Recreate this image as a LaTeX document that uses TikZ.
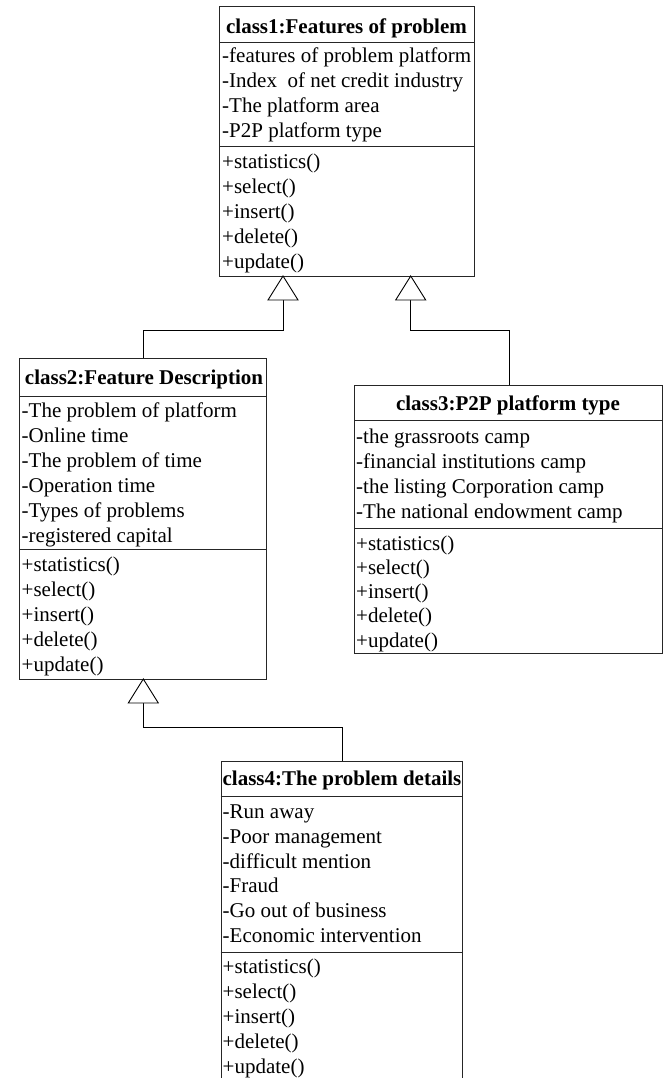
\documentclass[tikz,border=0pt]{standalone}
\usepackage{fontspec}
\setmainfont{Liberation Serif}
\begin{document}
\begin{tikzpicture}[x=1pt,y=-1pt,
  classbox/.style={draw=black!85, line width=1pt, inner sep=0pt, anchor=north west, fill=white},
  sepline/.style={draw=black!85, line width=1pt},
  ctext/.style={anchor=base west, inner sep=0pt, font=\fontsize{21}{25}\selectfont},
  ttext/.style={anchor=base, inner sep=0pt, font=\fontsize{21}{25}\selectfont\bfseries},
  gen/.style={draw=black, fill=white, line width=0.9pt},
  conn/.style={draw=black, line width=1pt}]
\useasboundingbox (0,0) rectangle (665,1078);

% ---------- class1 ----------
\node[classbox, minimum width=255pt, minimum height=270pt] (c1) at (219,6) {};
\draw[sepline] (219,42.7) -- (474,42.7);
\draw[sepline] (219,146.7) -- (474,146.7);
\node[ttext] (c1t) at (346.5,33.5) {class1:Features of problem};
\foreach \t [count=\i from 0] in {-features of problem platform,-Index\ \ of net credit industry,-The platform area,-P2P platform type}
  \node[ctext] (c1a\i) at (222,63+25*\i) {\t};
\foreach \t [count=\i from 0] in {+statistics(),+select(),+insert(),+delete(),+update()}
  \node[ctext] (c1m\i) at (222,168.5+25*\i) {\t};

% ---------- class2 ----------
\node[classbox, minimum width=246.4pt, minimum height=321.3pt] (c2) at (19.3,357.7) {};
\draw[sepline] (19.3,396) -- (265.7,396);
\draw[sepline] (19.3,549.3) -- (265.7,549.3);
\node[ttext] (c2t) at (144,384.5) {class2:Feature Description};
\foreach \t [count=\i from 0] in {-The problem of platform,-Online time,-The problem of time,-Operation time,-Types of problems,-registered capital}
  \node[ctext] (c2a\i) at (21.5,417+25*\i) {\t};
\foreach \t [count=\i from 0] in {+statistics(),+select(),+insert(),+delete(),+update()}
  \node[ctext] (c2m\i) at (21.5,571+25*\i) {\t};

% ---------- class3 ----------
\node[classbox, minimum width=308pt, minimum height=268pt] (c3) at (354,385) {};
\draw[sepline] (354,420) -- (662,420);
\draw[sepline] (354,528) -- (662,528);
\node[ttext] (c3t) at (508,410.5) {class3:P2P platform type};
\foreach \t [count=\i from 0] in {-the grassroots camp,-financial institutions camp,-the listing Corporation camp,-The national endowment camp}
  \node[ctext] (c3a\i) at (356,443+25*\i) {\t};
\foreach \t [count=\i from 0] in {+statistics(),+select(),+insert(),+delete(),+update()}
  \node[ctext] (c3m\i) at (356,550+24.3*\i) {\t};

% ---------- class4 ----------
\begin{scope}
\clip (0,0) rectangle (665,1078);
\node[classbox, minimum width=241.3pt, minimum height=330pt] (c4) at (220.7,760.7) {};
\draw[sepline] (220.7,796.7) -- (462,796.7);
\draw[sepline] (220.7,952.7) -- (462,952.7);
\node[ttext] (c4t) at (342,785) {class4:The problem details};
\foreach \t [count=\i from 0] in {-Run away,-Poor management,-difficult mention,-Fraud,-Go out of business,-Economic intervention}
  \node[ctext] (c4a\i) at (222.5,818.5+24.8*\i) {\t};
\foreach \t [count=\i from 0] in {+statistics(),+select(),+insert(),+delete(),+update()}
  \node[ctext] (c4m\i) at (222.5,973.7+25*\i) {\t};
\end{scope}

% ---------- generalizations ----------
\coordinate (a12) at (283,276);
\coordinate (b12) at (283,300);
\coordinate (k12) at (143.3,330.7);
\coordinate (c2top) at (143.3,357.7);
\draw[conn] (b12) |- (k12) -- (c2top);
\draw[gen] (a12) -- ++(-15,24) -- ++(30,0) -- cycle;

\coordinate (a13) at (410.7,276);
\coordinate (b13) at (410.7,300);
\coordinate (k13) at (509.3,330.7);
\coordinate (c3top) at (509.3,385);
\draw[conn] (b13) |- (k13) -- (c3top);
\draw[gen] (a13) -- ++(-15,24) -- ++(30,0) -- cycle;

\coordinate (a24) at (143.3,679);
\coordinate (b24) at (143.3,703);
\coordinate (k24) at (342.7,727.7);
\coordinate (c4top) at (342.7,760.7);
\draw[conn] (b24) |- (k24) -- (c4top);
\draw[gen] (a24) -- ++(-15,24) -- ++(30,0) -- cycle;
\end{tikzpicture}
\end{document}
